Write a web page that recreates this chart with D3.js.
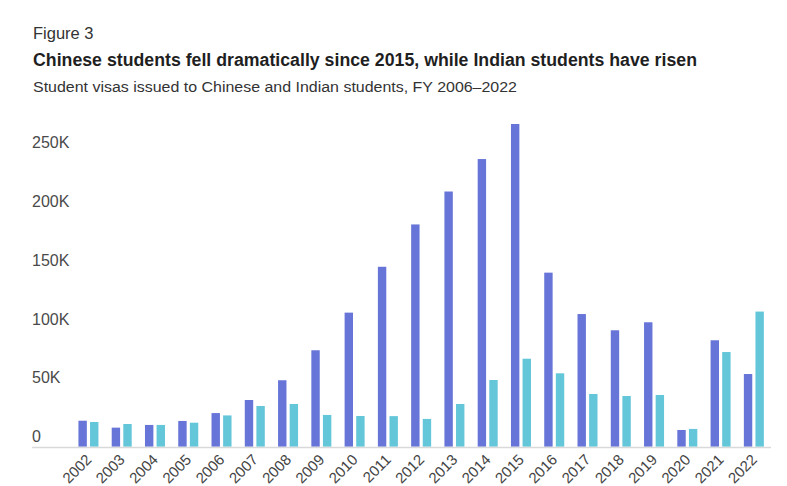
<!DOCTYPE html>
<html>
<head>
<meta charset="utf-8">
<script src="https://cdn.jsdelivr.net/npm/d3@7"></script>
<style>
  html, body { margin: 0; padding: 0; background: #fff; }
  svg { display: block; }
</style>
</head>
<body>
<svg id="chart" width="787" height="486"></svg>
<script>
const years = ["2002","2003","2004","2005","2006","2007","2008","2009","2010","2011","2012","2013","2014","2015","2016","2017","2018","2019","2020","2021","2022"];
const chinese = [22100, 16200, 18500, 21900, 28600, 39700, 56500, 82000, 114000, 153000, 189000, 217000, 244600, 274400, 148000, 112800, 99000, 105800, 14200, 90500, 61800];
const indian = [21000, 19300, 18500, 20400, 26600, 34600, 36300, 27000, 26100, 26000, 23600, 36300, 56700, 74800, 62400, 44800, 43100, 44000, 15100, 80500, 114900];
const seriesNames = ["Chinese", "Indian"];
const seriesColors = ["#6775d8", "#64c6d9"];
const yTicks = [0, 50000, 100000, 150000, 200000, 250000];
const yTickLabels = ["0", "50K", "100K", "150K", "200K", "250K"];

const svg = d3.select("#chart");
const font = "'Liberation Sans', Arial, sans-serif";

// Headings
svg.append("text").attr("x", 33).attr("y", 39)
  .attr("font-family", font).attr("font-size", 16.5).attr("fill", "#333")
  .text("Figure 3");
svg.append("text").attr("x", 33).attr("y", 66)
  .attr("font-family", font).attr("font-size", 18).attr("font-weight", "bold").attr("fill", "#1f1f1f")
  .attr("textLength", 664).attr("lengthAdjust", "spacingAndGlyphs")
  .text("Chinese students fell dramatically since 2015, while Indian students have risen");
svg.append("text").attr("x", 33).attr("y", 91.5)
  .attr("font-family", font).attr("font-size", 15.5).attr("fill", "#333")
  .attr("textLength", 484).attr("lengthAdjust", "spacingAndGlyphs")
  .text("Student visas issued to Chinese and Indian students, FY 2006\u20132022");

// Scales
const x0 = d3.scaleBand().domain(years).range([71.8, 770.5]).paddingInner(0).paddingOuter(0);
const step = x0.step();
const x1 = d3.scaleBand().domain(seriesNames).range([step / 2 - 10, step / 2 + 10]).paddingInner(0.276);
const y = d3.scaleLinear().domain([0, 250000]).range([446.7, 152.7]);

// Y labels (no gridlines)
const yAxis = svg.append("g");
yTicks.forEach((t, i) => {
  yAxis.append("text")
    .attr("x", 32).attr("y", y(t) - 4.5)
    .attr("font-family", font).attr("font-size", 16).attr("fill", "#4a4a4a")
    .text(yTickLabels[i]);
});

// Bars
const data = years.map((yr, i) => ({ year: yr, values: [chinese[i], indian[i]] }));
const groups = svg.append("g").selectAll("g").data(data).join("g")
  .attr("transform", d => `translate(${x0(d.year)},0)`);
groups.selectAll("rect")
  .data(d => d.values.map((v, j) => ({ key: seriesNames[j], value: v, color: seriesColors[j] })))
  .join("rect")
  .attr("x", d => x1(d.key))
  .attr("width", x1.bandwidth())
  .attr("y", d => y(d.value))
  .attr("height", d => y(0) - y(d.value))
  .attr("fill", d => d.color);

// Baseline
svg.append("line")
  .attr("x1", 32).attr("x2", 771)
  .attr("y1", y(0) + 0.8).attr("y2", y(0) + 0.8)
  .attr("stroke", "#d9d9d9").attr("stroke-width", 1.6);

// X labels rotated
const xAxis = svg.append("g")
  .attr("transform", `translate(0,${y(0)})`)
  .call(d3.axisBottom(x0).tickSize(0).tickPadding(0));
xAxis.select(".domain").remove();
xAxis.selectAll("text")
  .attr("font-family", font).attr("font-size", 15).attr("fill", "#444")
  .attr("text-anchor", "end")
  .attr("dy", null)
  .attr("transform", "translate(4,14) rotate(-45)");
</script>
</body>
</html>
